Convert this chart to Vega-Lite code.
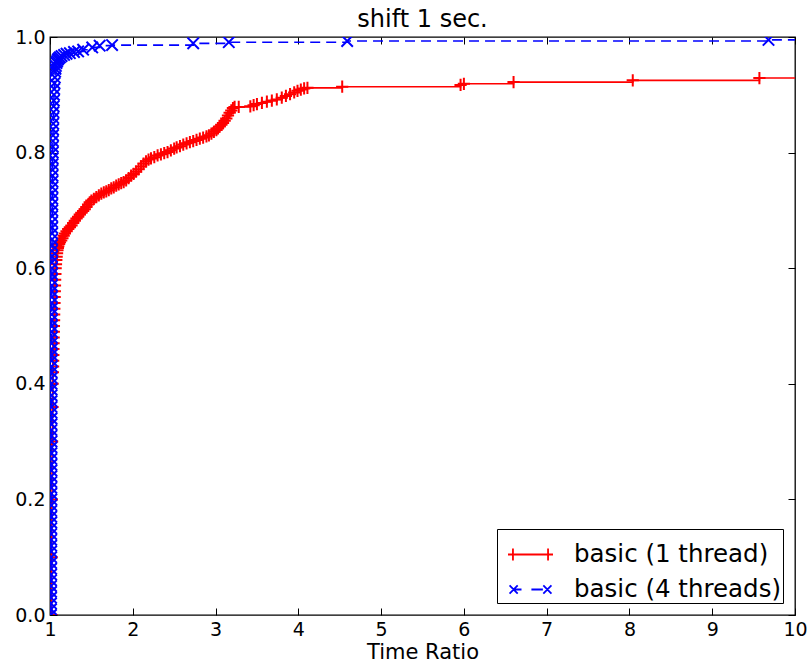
{
  "$schema": "https://vega.github.io/schema/vega-lite/v6.json",
  "width": 745,
  "height": 578,
  "autosize": "none",
  "padding": {"left": 50, "top": 37, "right": 16, "bottom": 47},
  "background": "white",
  "config": {
    "font": "DejaVu Sans",
    "view": {"stroke": "black", "strokeWidth": 1.3},
    "axis": {"grid": false, "domain": false, "tickColor": "black", "tickSize": -7, "tickWidth": 1, "labelColor": "black", "labelFontSize": 19, "labelFont": "DejaVu Sans", "titleFont": "DejaVu Sans", "titleFontSize": 21, "titleFontWeight": "normal", "titleColor": "black", "labelPadding": 12, "labelFlush": false},
    "legend": {"orient": "bottom-right", "offset": 12, "strokeColor": "black", "strokeWidth": 1, "fillColor": "white", "padding": 2, "cornerRadius": 0, "labelFontSize": 24.5, "labelFont": "DejaVu Sans", "labelColor": "black", "symbolSize": 2025, "symbolStrokeWidth": 1.8, "symbolOpacity": 1, "symbolOffset": 8, "labelOffset": 20, "rowPadding": -3, "labelLimit": 0}
  },
  "title": {"text": "shift 1 sec.", "fontSize": 24, "fontWeight": "normal", "font": "DejaVu Sans", "offset": -4, "color": "black", "frame": "group"},
  "datasets": {
    "d": [
      {"s": "basic (1 thread)", "x": 1.02, "y": 0.0},
      {"s": "basic (1 thread)", "x": 1.02, "y": 0.1},
      {"s": "basic (1 thread)", "x": 1.022, "y": 0.2},
      {"s": "basic (1 thread)", "x": 1.025, "y": 0.3},
      {"s": "basic (1 thread)", "x": 1.03, "y": 0.36},
      {"s": "basic (1 thread)", "x": 1.032, "y": 0.4},
      {"s": "basic (1 thread)", "x": 1.035, "y": 0.42},
      {"s": "basic (1 thread)", "x": 1.037, "y": 0.43},
      {"s": "basic (1 thread)", "x": 1.038, "y": 0.44},
      {"s": "basic (1 thread)", "x": 1.04, "y": 0.45},
      {"s": "basic (1 thread)", "x": 1.041, "y": 0.46},
      {"s": "basic (1 thread)", "x": 1.043, "y": 0.47},
      {"s": "basic (1 thread)", "x": 1.044, "y": 0.48},
      {"s": "basic (1 thread)", "x": 1.046, "y": 0.49},
      {"s": "basic (1 thread)", "x": 1.047, "y": 0.5},
      {"s": "basic (1 thread)", "x": 1.049, "y": 0.51},
      {"s": "basic (1 thread)", "x": 1.05, "y": 0.52},
      {"s": "basic (1 thread)", "x": 1.052, "y": 0.53},
      {"s": "basic (1 thread)", "x": 1.054, "y": 0.54},
      {"s": "basic (1 thread)", "x": 1.056, "y": 0.55},
      {"s": "basic (1 thread)", "x": 1.058, "y": 0.56},
      {"s": "basic (1 thread)", "x": 1.06, "y": 0.57},
      {"s": "basic (1 thread)", "x": 1.062, "y": 0.58},
      {"s": "basic (1 thread)", "x": 1.065, "y": 0.59},
      {"s": "basic (1 thread)", "x": 1.068, "y": 0.6},
      {"s": "basic (1 thread)", "x": 1.072, "y": 0.607},
      {"s": "basic (1 thread)", "x": 1.076, "y": 0.614},
      {"s": "basic (1 thread)", "x": 1.08, "y": 0.62},
      {"s": "basic (1 thread)", "x": 1.085, "y": 0.626},
      {"s": "basic (1 thread)", "x": 1.09, "y": 0.631},
      {"s": "basic (1 thread)", "x": 1.095, "y": 0.635},
      {"s": "basic (1 thread)", "x": 1.1, "y": 0.638},
      {"s": "basic (1 thread)", "x": 1.11, "y": 0.642},
      {"s": "basic (1 thread)", "x": 1.12, "y": 0.645},
      {"s": "basic (1 thread)", "x": 1.135, "y": 0.648},
      {"s": "basic (1 thread)", "x": 1.15, "y": 0.652},
      {"s": "basic (1 thread)", "x": 1.165, "y": 0.656},
      {"s": "basic (1 thread)", "x": 1.18, "y": 0.66},
      {"s": "basic (1 thread)", "x": 1.2, "y": 0.664},
      {"s": "basic (1 thread)", "x": 1.22, "y": 0.668},
      {"s": "basic (1 thread)", "x": 1.24, "y": 0.671},
      {"s": "basic (1 thread)", "x": 1.26, "y": 0.674},
      {"s": "basic (1 thread)", "x": 1.28, "y": 0.678},
      {"s": "basic (1 thread)", "x": 1.3, "y": 0.682},
      {"s": "basic (1 thread)", "x": 1.32, "y": 0.686},
      {"s": "basic (1 thread)", "x": 1.34, "y": 0.689},
      {"s": "basic (1 thread)", "x": 1.36, "y": 0.693},
      {"s": "basic (1 thread)", "x": 1.38, "y": 0.696},
      {"s": "basic (1 thread)", "x": 1.4, "y": 0.699},
      {"s": "basic (1 thread)", "x": 1.42, "y": 0.702},
      {"s": "basic (1 thread)", "x": 1.44, "y": 0.706},
      {"s": "basic (1 thread)", "x": 1.46, "y": 0.71},
      {"s": "basic (1 thread)", "x": 1.48, "y": 0.714},
      {"s": "basic (1 thread)", "x": 1.5, "y": 0.717},
      {"s": "basic (1 thread)", "x": 1.53, "y": 0.72},
      {"s": "basic (1 thread)", "x": 1.56, "y": 0.723},
      {"s": "basic (1 thread)", "x": 1.59, "y": 0.726},
      {"s": "basic (1 thread)", "x": 1.62, "y": 0.729},
      {"s": "basic (1 thread)", "x": 1.65, "y": 0.731},
      {"s": "basic (1 thread)", "x": 1.68, "y": 0.733},
      {"s": "basic (1 thread)", "x": 1.71, "y": 0.735},
      {"s": "basic (1 thread)", "x": 1.74, "y": 0.738},
      {"s": "basic (1 thread)", "x": 1.77, "y": 0.74},
      {"s": "basic (1 thread)", "x": 1.8, "y": 0.743},
      {"s": "basic (1 thread)", "x": 1.83, "y": 0.745},
      {"s": "basic (1 thread)", "x": 1.86, "y": 0.747},
      {"s": "basic (1 thread)", "x": 1.89, "y": 0.749},
      {"s": "basic (1 thread)", "x": 1.92, "y": 0.752},
      {"s": "basic (1 thread)", "x": 1.95, "y": 0.756},
      {"s": "basic (1 thread)", "x": 1.98, "y": 0.76},
      {"s": "basic (1 thread)", "x": 2.01, "y": 0.763},
      {"s": "basic (1 thread)", "x": 2.04, "y": 0.767},
      {"s": "basic (1 thread)", "x": 2.07, "y": 0.771},
      {"s": "basic (1 thread)", "x": 2.1, "y": 0.776},
      {"s": "basic (1 thread)", "x": 2.13, "y": 0.781},
      {"s": "basic (1 thread)", "x": 2.16, "y": 0.785},
      {"s": "basic (1 thread)", "x": 2.19, "y": 0.788},
      {"s": "basic (1 thread)", "x": 2.22, "y": 0.79},
      {"s": "basic (1 thread)", "x": 2.26, "y": 0.792},
      {"s": "basic (1 thread)", "x": 2.3, "y": 0.795},
      {"s": "basic (1 thread)", "x": 2.34, "y": 0.797},
      {"s": "basic (1 thread)", "x": 2.38, "y": 0.799},
      {"s": "basic (1 thread)", "x": 2.42, "y": 0.801},
      {"s": "basic (1 thread)", "x": 2.46, "y": 0.804},
      {"s": "basic (1 thread)", "x": 2.5, "y": 0.807},
      {"s": "basic (1 thread)", "x": 2.53, "y": 0.809},
      {"s": "basic (1 thread)", "x": 2.57, "y": 0.811},
      {"s": "basic (1 thread)", "x": 2.61, "y": 0.814},
      {"s": "basic (1 thread)", "x": 2.65, "y": 0.816},
      {"s": "basic (1 thread)", "x": 2.69, "y": 0.818},
      {"s": "basic (1 thread)", "x": 2.73, "y": 0.82},
      {"s": "basic (1 thread)", "x": 2.77, "y": 0.822},
      {"s": "basic (1 thread)", "x": 2.81, "y": 0.824},
      {"s": "basic (1 thread)", "x": 2.85, "y": 0.826},
      {"s": "basic (1 thread)", "x": 2.89, "y": 0.828},
      {"s": "basic (1 thread)", "x": 2.92, "y": 0.83},
      {"s": "basic (1 thread)", "x": 2.95, "y": 0.833},
      {"s": "basic (1 thread)", "x": 2.98, "y": 0.836},
      {"s": "basic (1 thread)", "x": 3.01, "y": 0.839},
      {"s": "basic (1 thread)", "x": 3.03, "y": 0.842},
      {"s": "basic (1 thread)", "x": 3.05, "y": 0.845},
      {"s": "basic (1 thread)", "x": 3.07, "y": 0.848},
      {"s": "basic (1 thread)", "x": 3.09, "y": 0.851},
      {"s": "basic (1 thread)", "x": 3.11, "y": 0.855},
      {"s": "basic (1 thread)", "x": 3.13, "y": 0.859},
      {"s": "basic (1 thread)", "x": 3.15, "y": 0.864},
      {"s": "basic (1 thread)", "x": 3.17, "y": 0.869},
      {"s": "basic (1 thread)", "x": 3.19, "y": 0.873},
      {"s": "basic (1 thread)", "x": 3.21, "y": 0.877},
      {"s": "basic (1 thread)", "x": 3.23, "y": 0.879},
      {"s": "basic (1 thread)", "x": 3.28, "y": 0.879},
      {"s": "basic (1 thread)", "x": 3.42, "y": 0.88},
      {"s": "basic (1 thread)", "x": 3.46, "y": 0.882},
      {"s": "basic (1 thread)", "x": 3.5, "y": 0.884},
      {"s": "basic (1 thread)", "x": 3.56, "y": 0.886},
      {"s": "basic (1 thread)", "x": 3.62, "y": 0.888},
      {"s": "basic (1 thread)", "x": 3.68, "y": 0.89},
      {"s": "basic (1 thread)", "x": 3.74, "y": 0.892},
      {"s": "basic (1 thread)", "x": 3.8, "y": 0.895},
      {"s": "basic (1 thread)", "x": 3.85, "y": 0.898},
      {"s": "basic (1 thread)", "x": 3.9, "y": 0.901},
      {"s": "basic (1 thread)", "x": 3.95, "y": 0.904},
      {"s": "basic (1 thread)", "x": 3.99, "y": 0.907},
      {"s": "basic (1 thread)", "x": 4.03, "y": 0.909},
      {"s": "basic (1 thread)", "x": 4.07, "y": 0.911},
      {"s": "basic (1 thread)", "x": 4.11, "y": 0.912},
      {"s": "basic (1 thread)", "x": 4.53, "y": 0.914},
      {"s": "basic (1 thread)", "x": 5.96, "y": 0.917},
      {"s": "basic (1 thread)", "x": 6.0, "y": 0.919},
      {"s": "basic (1 thread)", "x": 6.6, "y": 0.922},
      {"s": "basic (1 thread)", "x": 8.04, "y": 0.925},
      {"s": "basic (1 thread)", "x": 9.57, "y": 0.929},
      {"s": "basic (1 thread)", "x": 10.5, "y": 0.929},
      {"s": "basic (4 threads)", "x": 1.012, "y": 0.0},
      {"s": "basic (4 threads)", "x": 1.012, "y": 0.01},
      {"s": "basic (4 threads)", "x": 1.012, "y": 0.02},
      {"s": "basic (4 threads)", "x": 1.013, "y": 0.03},
      {"s": "basic (4 threads)", "x": 1.013, "y": 0.04},
      {"s": "basic (4 threads)", "x": 1.013, "y": 0.05},
      {"s": "basic (4 threads)", "x": 1.013, "y": 0.06},
      {"s": "basic (4 threads)", "x": 1.014, "y": 0.07},
      {"s": "basic (4 threads)", "x": 1.014, "y": 0.08},
      {"s": "basic (4 threads)", "x": 1.014, "y": 0.09},
      {"s": "basic (4 threads)", "x": 1.014, "y": 0.1},
      {"s": "basic (4 threads)", "x": 1.014, "y": 0.11},
      {"s": "basic (4 threads)", "x": 1.015, "y": 0.12},
      {"s": "basic (4 threads)", "x": 1.015, "y": 0.13},
      {"s": "basic (4 threads)", "x": 1.015, "y": 0.14},
      {"s": "basic (4 threads)", "x": 1.015, "y": 0.15},
      {"s": "basic (4 threads)", "x": 1.015, "y": 0.16},
      {"s": "basic (4 threads)", "x": 1.015, "y": 0.17},
      {"s": "basic (4 threads)", "x": 1.016, "y": 0.18},
      {"s": "basic (4 threads)", "x": 1.016, "y": 0.19},
      {"s": "basic (4 threads)", "x": 1.016, "y": 0.2},
      {"s": "basic (4 threads)", "x": 1.016, "y": 0.21},
      {"s": "basic (4 threads)", "x": 1.016, "y": 0.22},
      {"s": "basic (4 threads)", "x": 1.017, "y": 0.23},
      {"s": "basic (4 threads)", "x": 1.017, "y": 0.24},
      {"s": "basic (4 threads)", "x": 1.017, "y": 0.25},
      {"s": "basic (4 threads)", "x": 1.017, "y": 0.26},
      {"s": "basic (4 threads)", "x": 1.017, "y": 0.27},
      {"s": "basic (4 threads)", "x": 1.017, "y": 0.28},
      {"s": "basic (4 threads)", "x": 1.018, "y": 0.29},
      {"s": "basic (4 threads)", "x": 1.018, "y": 0.3},
      {"s": "basic (4 threads)", "x": 1.018, "y": 0.31},
      {"s": "basic (4 threads)", "x": 1.018, "y": 0.32},
      {"s": "basic (4 threads)", "x": 1.018, "y": 0.33},
      {"s": "basic (4 threads)", "x": 1.018, "y": 0.34},
      {"s": "basic (4 threads)", "x": 1.019, "y": 0.35},
      {"s": "basic (4 threads)", "x": 1.019, "y": 0.36},
      {"s": "basic (4 threads)", "x": 1.019, "y": 0.37},
      {"s": "basic (4 threads)", "x": 1.019, "y": 0.38},
      {"s": "basic (4 threads)", "x": 1.019, "y": 0.39},
      {"s": "basic (4 threads)", "x": 1.019, "y": 0.4},
      {"s": "basic (4 threads)", "x": 1.02, "y": 0.41},
      {"s": "basic (4 threads)", "x": 1.02, "y": 0.42},
      {"s": "basic (4 threads)", "x": 1.02, "y": 0.43},
      {"s": "basic (4 threads)", "x": 1.02, "y": 0.44},
      {"s": "basic (4 threads)", "x": 1.02, "y": 0.45},
      {"s": "basic (4 threads)", "x": 1.02, "y": 0.46},
      {"s": "basic (4 threads)", "x": 1.021, "y": 0.47},
      {"s": "basic (4 threads)", "x": 1.021, "y": 0.48},
      {"s": "basic (4 threads)", "x": 1.021, "y": 0.49},
      {"s": "basic (4 threads)", "x": 1.021, "y": 0.5},
      {"s": "basic (4 threads)", "x": 1.021, "y": 0.51},
      {"s": "basic (4 threads)", "x": 1.021, "y": 0.52},
      {"s": "basic (4 threads)", "x": 1.022, "y": 0.53},
      {"s": "basic (4 threads)", "x": 1.022, "y": 0.54},
      {"s": "basic (4 threads)", "x": 1.022, "y": 0.55},
      {"s": "basic (4 threads)", "x": 1.022, "y": 0.56},
      {"s": "basic (4 threads)", "x": 1.022, "y": 0.57},
      {"s": "basic (4 threads)", "x": 1.023, "y": 0.58},
      {"s": "basic (4 threads)", "x": 1.023, "y": 0.59},
      {"s": "basic (4 threads)", "x": 1.023, "y": 0.6},
      {"s": "basic (4 threads)", "x": 1.024, "y": 0.61},
      {"s": "basic (4 threads)", "x": 1.024, "y": 0.62},
      {"s": "basic (4 threads)", "x": 1.024, "y": 0.63},
      {"s": "basic (4 threads)", "x": 1.025, "y": 0.64},
      {"s": "basic (4 threads)", "x": 1.025, "y": 0.65},
      {"s": "basic (4 threads)", "x": 1.025, "y": 0.66},
      {"s": "basic (4 threads)", "x": 1.026, "y": 0.67},
      {"s": "basic (4 threads)", "x": 1.026, "y": 0.68},
      {"s": "basic (4 threads)", "x": 1.026, "y": 0.69},
      {"s": "basic (4 threads)", "x": 1.027, "y": 0.7},
      {"s": "basic (4 threads)", "x": 1.027, "y": 0.71},
      {"s": "basic (4 threads)", "x": 1.028, "y": 0.72},
      {"s": "basic (4 threads)", "x": 1.028, "y": 0.73},
      {"s": "basic (4 threads)", "x": 1.029, "y": 0.74},
      {"s": "basic (4 threads)", "x": 1.029, "y": 0.75},
      {"s": "basic (4 threads)", "x": 1.03, "y": 0.76},
      {"s": "basic (4 threads)", "x": 1.031, "y": 0.77},
      {"s": "basic (4 threads)", "x": 1.031, "y": 0.78},
      {"s": "basic (4 threads)", "x": 1.032, "y": 0.79},
      {"s": "basic (4 threads)", "x": 1.033, "y": 0.8},
      {"s": "basic (4 threads)", "x": 1.034, "y": 0.81},
      {"s": "basic (4 threads)", "x": 1.035, "y": 0.82},
      {"s": "basic (4 threads)", "x": 1.036, "y": 0.83},
      {"s": "basic (4 threads)", "x": 1.037, "y": 0.84},
      {"s": "basic (4 threads)", "x": 1.039, "y": 0.85},
      {"s": "basic (4 threads)", "x": 1.04, "y": 0.86},
      {"s": "basic (4 threads)", "x": 1.042, "y": 0.87},
      {"s": "basic (4 threads)", "x": 1.044, "y": 0.88},
      {"s": "basic (4 threads)", "x": 1.046, "y": 0.89},
      {"s": "basic (4 threads)", "x": 1.048, "y": 0.9},
      {"s": "basic (4 threads)", "x": 1.051, "y": 0.91},
      {"s": "basic (4 threads)", "x": 1.054, "y": 0.92},
      {"s": "basic (4 threads)", "x": 1.058, "y": 0.93},
      {"s": "basic (4 threads)", "x": 1.062, "y": 0.94},
      {"s": "basic (4 threads)", "x": 1.066, "y": 0.945},
      {"s": "basic (4 threads)", "x": 1.071, "y": 0.95},
      {"s": "basic (4 threads)", "x": 1.078, "y": 0.955},
      {"s": "basic (4 threads)", "x": 1.086, "y": 0.958},
      {"s": "basic (4 threads)", "x": 1.095, "y": 0.961},
      {"s": "basic (4 threads)", "x": 1.105, "y": 0.963},
      {"s": "basic (4 threads)", "x": 1.12, "y": 0.965},
      {"s": "basic (4 threads)", "x": 1.14, "y": 0.967},
      {"s": "basic (4 threads)", "x": 1.17, "y": 0.969},
      {"s": "basic (4 threads)", "x": 1.2, "y": 0.971},
      {"s": "basic (4 threads)", "x": 1.24, "y": 0.972},
      {"s": "basic (4 threads)", "x": 1.29, "y": 0.974},
      {"s": "basic (4 threads)", "x": 1.34, "y": 0.975},
      {"s": "basic (4 threads)", "x": 1.4, "y": 0.978},
      {"s": "basic (4 threads)", "x": 1.51, "y": 0.982},
      {"s": "basic (4 threads)", "x": 1.6, "y": 0.985},
      {"s": "basic (4 threads)", "x": 1.75, "y": 0.986},
      {"s": "basic (4 threads)", "x": 2.73, "y": 0.989},
      {"s": "basic (4 threads)", "x": 3.16, "y": 0.991},
      {"s": "basic (4 threads)", "x": 4.59, "y": 0.993},
      {"s": "basic (4 threads)", "x": 9.68, "y": 0.995},
      {"s": "basic (4 threads)", "x": 10.5, "y": 0.995}
    ]
  },
  "data": {"name": "d"},
  "layer": [
    {
      "transform": [{"filter": "datum.s === 'basic (1 thread)'"}],
      "mark": {"type": "line", "interpolate": "step-after", "color": "#ff0000", "strokeWidth": 1.6, "clip": true},
      "encoding": {
        "x": {"field": "x", "type": "quantitative", "scale": {"domain": [1, 10], "nice": false, "zero": false}, "axis": {"orient": "bottom", "values": [1, 2, 3, 4, 5, 6, 7, 8, 9, 10], "title": "Time Ratio", "titlePadding": 2}},
        "y": {"field": "y", "type": "quantitative", "scale": {"domain": [0, 1], "nice": false, "zero": false}, "axis": {"orient": "left", "values": [0, 0.2, 0.4, 0.6, 0.8, 1.0], "format": ".1f", "title": null}}
      }
    },
    {
      "transform": [{"filter": "datum.s === 'basic (1 thread)'"}],
      "mark": {"type": "point", "filled": false, "strokeWidth": 2, "size": 150, "opacity": 1, "clip": true, "color": "#ff0000", "shape": "M-1,0L1,0M0,-1L0,1"},
      "encoding": {
        "x": {"field": "x", "type": "quantitative", "axis": null},
        "y": {"field": "y", "type": "quantitative", "axis": null}
      }
    },
    {
      "transform": [{"filter": "datum.s === 'basic (4 threads)'"}],
      "mark": {"type": "line", "interpolate": "step-after", "color": "#0000ff", "strokeWidth": 1.6, "strokeDash": [10, 6], "clip": true},
      "encoding": {
        "x": {"field": "x", "type": "quantitative", "axis": {"orient": "top", "values": [1, 2, 3, 4, 5, 6, 7, 8, 9, 10], "labels": false, "title": null, "labelPadding": 0, "minExtent": 0, "maxExtent": 0}},
        "y": {"field": "y", "type": "quantitative", "axis": {"orient": "right", "values": [0, 0.2, 0.4, 0.6, 0.8, 1.0], "labels": false, "title": null, "labelPadding": 0, "minExtent": 0, "maxExtent": 0}}
      }
    },
    {
      "transform": [{"filter": "datum.s === 'basic (4 threads)'"}],
      "mark": {"type": "point", "filled": false, "strokeWidth": 2, "size": 130, "opacity": 1, "clip": true, "color": "#0000ff", "shape": "M-1,-1L1,1M-1,1L1,-1"},
      "encoding": {
        "x": {"field": "x", "type": "quantitative", "axis": null},
        "y": {"field": "y", "type": "quantitative", "axis": null}
      }
    },
    {
      "transform": [{"filter": "false"}],
      "mark": {"type": "point", "filled": false, "strokeWidth": 1.8, "opacity": 1, "clip": true},
      "encoding": {
        "x": {"field": "x", "type": "quantitative", "axis": null},
        "y": {"field": "y", "type": "quantitative", "axis": null},
        "color": {"field": "s", "type": "nominal", "scale": {"domain": ["basic (1 thread)", "basic (4 threads)"], "range": ["#ff0000", "#0000ff"]}, "legend": {"title": null}},
        "shape": {"field": "s", "type": "nominal", "scale": {"domain": ["basic (1 thread)", "basic (4 threads)"], "range": ["M-1,0L1,0M-0.78,-0.27L-0.78,0.27M0.78,-0.27L0.78,0.27", "M-0.93,-0.18L-0.57,0.18M-0.93,0.18L-0.57,-0.18M0.57,-0.18L0.93,0.18M0.57,0.18L0.93,-0.18M-0.75,0L-0.4,0M0.04,0L0.55,0"]}, "legend": {"title": null}}
      }
    }
  ],
  "resolve": {"axis": {"x": "independent", "y": "independent"}}
}
